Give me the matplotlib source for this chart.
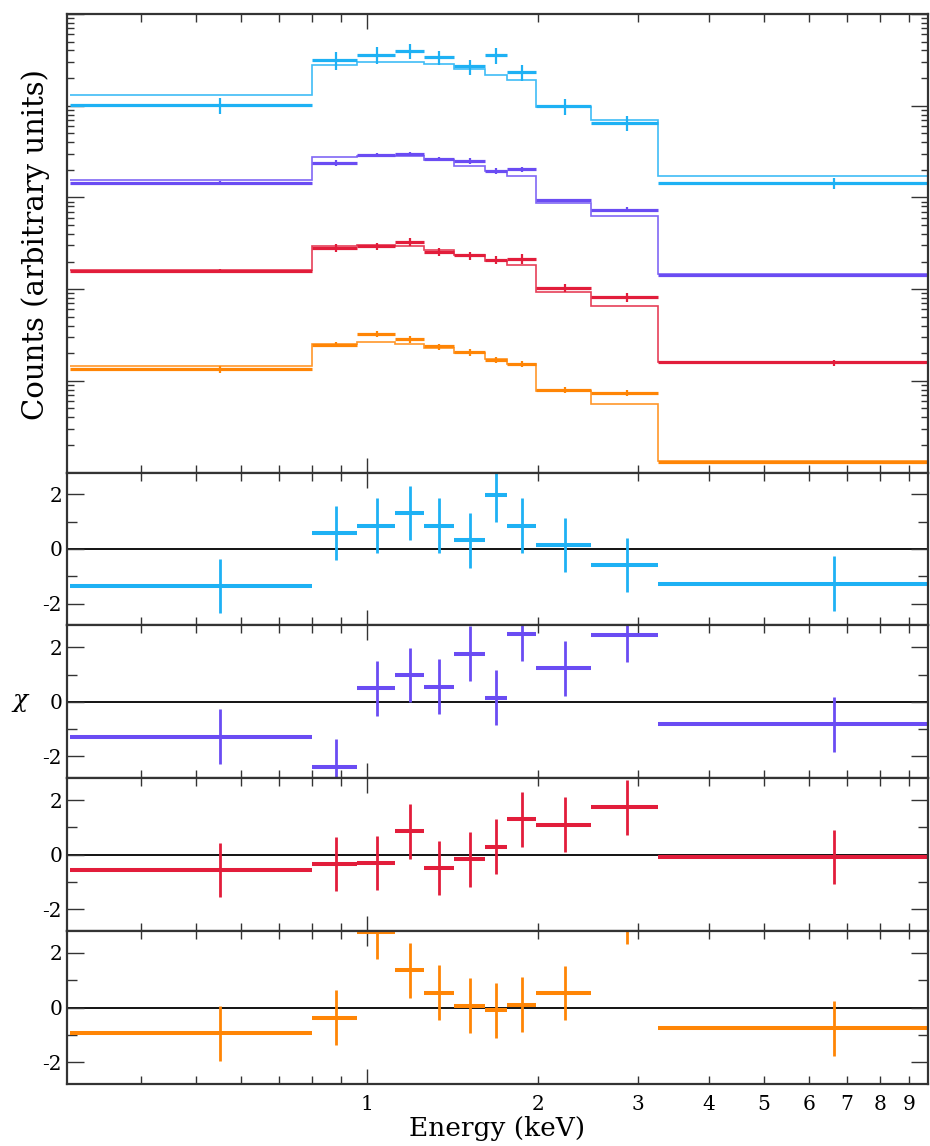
import matplotlib
matplotlib.use('Agg')
import matplotlib.pyplot as plt
import numpy as np
from matplotlib.ticker import FixedLocator, FixedFormatter, NullFormatter, LogLocator

plt.rcParams['font.family'] = ['DejaVu Serif']
plt.rcParams['mathtext.fontset'] = 'dejavuserif'
plt.rcParams['axes.unicode_minus'] = False

################################################
#           Donnees                            #
################################################

# energy bins (keV)
e_lo = np.array([0.30, 0.80, 0.96, 1.12, 1.26, 1.42, 1.61, 1.76, 1.98, 2.48, 3.25])
e_hi = np.array([0.80, 0.96, 1.12, 1.26, 1.42, 1.61, 1.76, 1.98, 2.48, 3.25, 10.0])

# spectrum 1 (blue)
cts_a = [1.013, 3.17, 3.60, 3.98, 3.36, 2.68, 3.54, 2.33, 0.992, 0.648, 0.1436]
err_a = [0.21, 0.71, 0.73, 0.77, 0.59, 0.50, 0.68, 0.48, 0.205, 0.12, 0.02]
mod_a = [1.294, 2.75, 2.97, 2.97, 2.85, 2.51, 2.18, 1.92, 0.975, 0.704, 0.171]
chi_a = [-1.35, 0.59, 0.86, 1.32, 0.86, 0.32, 1.99, 0.86, 0.14, -0.58, -1.27]

# spectrum 2 (purple)
cts_b = [0.1436, 0.237, 0.292, 0.297, 0.264, 0.251, 0.194, 0.202, 0.0927, 0.0734, 0.01436]
err_b = [0.006, 0.018, 0.014, 0.014, 0.013, 0.017, 0.013, 0.0124, 0.0041, 0.0046, 0.0004]
mod_b = [0.1532, 0.278, 0.285, 0.283, 0.257, 0.222, 0.192, 0.171, 0.0876, 0.0620, 0.0147]
chi_b = [-1.27, -2.37, 0.49, 0.99, 0.56, 1.77, 0.15, 2.50, 1.23, 2.46, -0.82]

# spectrum 3 (red)
cts_c = [0.01588, 0.02828, 0.02923, 0.03265, 0.02558, 0.02331, 0.02077, 0.02145, 0.01036, 0.00812, 0.001588]
err_c = [0.0007, 0.0029, 0.0028, 0.0034, 0.0027, 0.0024, 0.0021, 0.0026, 0.00096, 0.00091, 0.00012]
mod_c = [0.0163, 0.0293, 0.0301, 0.0297, 0.0269, 0.0237, 0.0202, 0.01813, 0.0093, 0.00654, 0.001597]
chi_c = [-0.56, -0.34, -0.31, 0.86, -0.49, -0.17, 0.29, 1.29, 1.10, 1.74, -0.09]

# spectrum 4 (orange)
cts_d = [0.001331, 0.002476, 0.003236, 0.002856, 0.002372, 0.002040, 0.001698, 0.001536, 0.000800, 0.000742, 0.0001289]
err_d = [0.00011, 0.00015, 0.00022, 0.00025, 0.00018, 0.00016, 0.00014, 0.00013, 0.00006, 0.000054, 0.0000045]
mod_d = [0.001436, 0.00253, 0.002624, 0.002519, 0.00227, 0.00203, 0.00171, 0.00152, 0.000768, 0.000563, 0.0001321]
chi_d = [-0.94, -0.37, 2.77, 1.36, 0.55, 0.07, -0.10, 0.11, 0.53, 3.33, -0.76]

couleurs = ['#1eb1f4', '#6a4cf3', '#e21d3b', '#ff8505']
spectres = [(cts_a, err_a, mod_a, chi_a),
            (cts_b, err_b, mod_b, chi_b),
            (cts_c, err_c, mod_c, chi_c),
            (cts_d, err_d, mod_d, chi_d)]

edges = np.append(e_lo, e_hi[-1])
centre = (e_lo + e_hi) / 2.0
xerr = [centre - e_lo, e_hi - centre]

x_min, x_max = 0.296, 9.72
x_minor = [0.4, 0.5, 0.6, 0.7, 0.8, 0.9, 2, 3, 4, 5, 6, 7, 8, 9]
x_minor_lab = ['', '', '', '', '', '', '2', '3', '4', '5', '6', '7', '8', '9']

################################################
#           Parti graphique                    #
################################################

fig = plt.figure(figsize=(9.3, 11.46), dpi=100)
gs = fig.add_gridspec(5, 1, height_ratios=[3, 1, 1, 1, 1], hspace=0,
                      left=0.072, right=0.998, top=0.9878, bottom=0.0541)
axes = [fig.add_subplot(gs[0])]
for k in range(1, 5):
    axes.append(fig.add_subplot(gs[k], sharex=axes[0]))


def style_axe(ax):
    for s in ax.spines.values():
        s.set_color('#333333')
        s.set_linewidth(1.6)
    ax.set_xscale('log')
    ax.set_xlim(x_min, x_max)
    ax.xaxis.set_major_locator(FixedLocator([1, 10]))
    ax.xaxis.set_major_formatter(FixedFormatter(['1', '10']))
    ax.xaxis.set_minor_locator(FixedLocator(x_minor))
    ax.xaxis.set_minor_formatter(FixedFormatter(x_minor_lab))
    ax.tick_params(which='both', direction='in', top=True, right=True,
                   colors='#333333', labelcolor='black', width=1.0, labelsize=14.5)
    ax.tick_params(which='major', length=11)
    ax.tick_params(which='minor', length=6)


# spectres
ax = axes[0]
style_axe(ax)
for (cts, err, mod, chi), c in zip(spectres, couleurs):
    ax.stairs(mod, edges, baseline=None, color=c, lw=1.2, alpha=0.85)
    ax.errorbar(centre, cts, xerr=xerr, fmt='none', ecolor=c, elinewidth=2.3, capsize=0)
    ax.errorbar(centre, cts, yerr=err, fmt='none', ecolor=c, elinewidth=1.6, capsize=0)
ax.set_yscale('log')
ax.set_ylim(1e-4, 10)
ax.yaxis.set_minor_locator(LogLocator(base=10, subs=np.arange(2, 10), numticks=50))
ax.yaxis.set_major_formatter(NullFormatter())
ax.yaxis.set_minor_formatter(NullFormatter())
ax.tick_params(which='major', axis='y', length=12)
ax.tick_params(which='minor', axis='y', length=5)
ax.tick_params(which='both', labelbottom=False)

# residus
for ax, (cts, err, mod, chi), c in zip(axes[1:], spectres, couleurs):
    style_axe(ax)
    ax.axhline(0, color='black', lw=1.3, zorder=1)
    ax.errorbar(centre, chi, xerr=xerr, fmt='none', ecolor=c, elinewidth=2.9, capsize=0)
    ax.errorbar(centre, chi, yerr=1.0, fmt='none', ecolor=c, elinewidth=2.0, capsize=0)
    ax.set_ylim(-2.8, 2.8)
    ax.set_yticks([-2, 0, 2])
    ax.set_yticklabels(['-2', '0', '2'])
    ax.yaxis.set_minor_locator(FixedLocator([-1, 1]))
    ax.yaxis.set_minor_formatter(NullFormatter())
    ax.tick_params(which='major', axis='y', length=12)
    ax.tick_params(which='minor', axis='y', length=7)
    if ax is not axes[-1]:
        ax.tick_params(which='both', labelbottom=False)

axes[-1].tick_params(which='both', axis='x', pad=8)
axes[-1].set_xlabel('Energy (keV)', fontsize=19, labelpad=1)

fig.text(36 / 930, 1 - 245 / 1146, 'Counts (arbitrary units)', rotation=90,
         fontsize=21, ha='center', va='center')
fig.text(21 / 930, 1 - 703 / 1146, r'$\chi$', fontsize=18, ha='center', va='center')

plt.savefig('out.png', dpi=100)
